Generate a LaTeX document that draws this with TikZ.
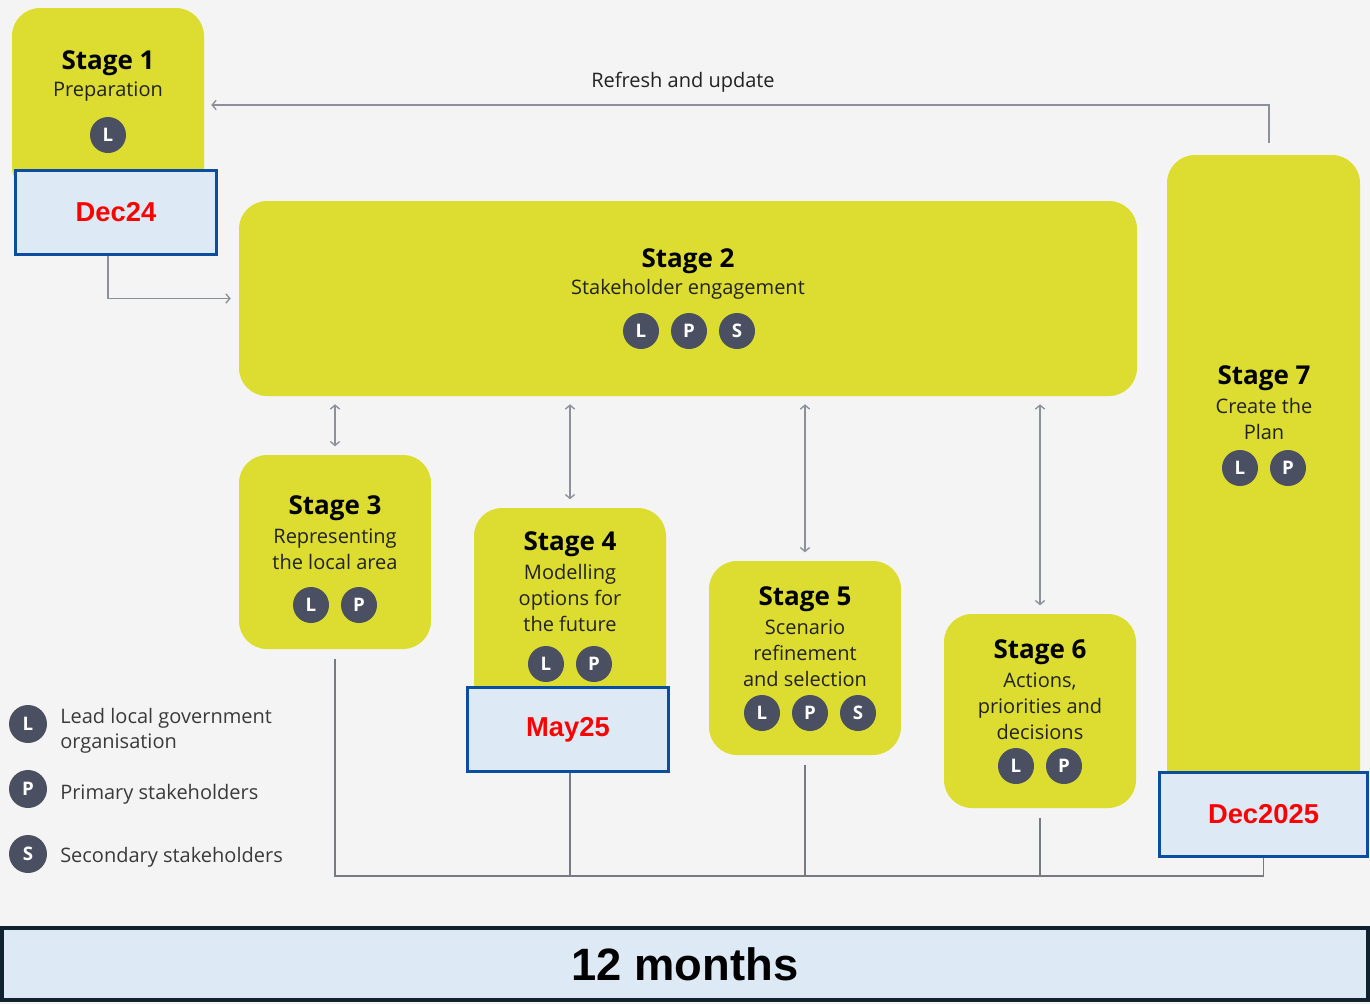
\documentclass[tikz,border=0pt]{standalone}
\usepackage{fontspec}
\setmainfont{Open Sans}
\newfontfamily\datefont{Liberation Sans}
\usetikzlibrary{arrows.meta}
\definecolor{bg}{HTML}{F4F4F4}
\definecolor{ylw}{HTML}{DCDD30}
\definecolor{dotc}{HTML}{4A5061}
\definecolor{ln}{HTML}{8B909A}
\definecolor{dfill}{HTML}{DDEAF6}
\definecolor{dblue}{HTML}{0B4EA0}
\definecolor{dred}{HTML}{FF0000}
\definecolor{navy}{HTML}{10222F}
\definecolor{txt}{HTML}{222222}
\definecolor{legtxt}{HTML}{3A3A3A}
\newcommand{\stagebox}[5]{%
  \node[stagebox, minimum width={(#4-#2)*0.75pt}, minimum height={(#5-#3)*0.75pt}] (#1) at ({(#2+#4)/2},{(#3+#5)/2}) {};}
\newcommand{\datebox}[6]{%
  \node[datebox, minimum width={(#4-#2-3)*0.75pt}, minimum height={(#5-#3-3)*0.75pt}] (#1) at ({(#2+#4)/2},{(#3+#5)/2}) {#6};}
\tikzset{
  stagebox/.style={draw=none, fill=ylw, rounded corners=21pt, inner sep=0pt},
  datebox/.style={draw=dblue, line width=2.25pt, fill=dfill, inner sep=0pt,
    text=dred, font=\datefont\bfseries\fontsize{20.5}{24}\selectfont},
  badge/.style={circle, fill=dotc, text=white, minimum size=27pt, inner sep=0pt,
    font=\bfseries\fontsize{14}{16}\selectfont},
  lbadge/.style={badge, minimum size=28.5pt},
  ttl/.style={font=\bfseries\fontsize{19.5}{22}\selectfont, text=black, inner sep=0pt},
  sub/.style={font=\fontsize{15}{19.5}\selectfont, text=txt, align=center, inner sep=0pt},
  legtext/.style={font=\fontsize{15}{19}\selectfont, text=legtxt, align=left, inner sep=0pt, anchor=west},
  conn/.style={draw=ln, line width=1pt},
  tipb/.tip={Straight Barb[length=3pt, width=7pt, line width=1pt]},
  bl/.style={draw=ln!85!black, line width=0.9pt}
}
\begin{document}
\begin{tikzpicture}[x=0.75pt, y=-0.75pt]
\fill[bg] (0,0) rectangle (1370,1004);
\useasboundingbox (0,0) rectangle (1370,1004);

% stage boxes
\stagebox{s1}{12}{8}{204}{195}
\stagebox{s2}{239}{201}{1137}{396}
\stagebox{s3}{239}{455}{431}{649}
\stagebox{s4}{474}{508}{666}{720}
\stagebox{s5}{709}{561}{901}{755}
\stagebox{s6}{944}{614}{1136}{808}
\stagebox{s7}{1167}{155}{1360}{800}

% date boxes
\datebox{d1}{14}{169}{218}{256}{Dec24}
\datebox{d2}{466}{686}{670}{773}{May25}
\datebox{d3}{1158}{771}{1369}{858}{Dec2025}

% 12 months bar
\node[draw=navy, line width=3pt, fill=dfill, minimum width={(1370-4)*0.75pt}, minimum height={(1002-926-4)*0.75pt},
  inner sep=0pt, font=\datefont\bfseries\fontsize{34}{38}\selectfont, text=black] (months) at (685,964) {12 months};

% texts
\node[ttl] (t1) at (108,63) {Stage 1};
\node[sub] (u1) at (108,92) {Preparation};
\node[badge] (b1L) at (108,135) {L};

\node[ttl] (t2) at (688,261) {Stage 2};
\node[sub] (u2) at (688,289) {Stakeholder engagement};
\node[badge] (b2L) at (641,331) {L};
\node[badge] (b2P) at (689,331) {P};
\node[badge] (b2S) at (737,331) {S};

\node[ttl] (t3) at (335,508) {Stage 3};
\node[sub] (u3) at (335,549) {Representing\\the local area};
\node[badge] (b3L) at (311,605) {L};
\node[badge] (b3P) at (359,605) {P};

\node[ttl] (t4) at (570,544) {Stage 4};
\node[sub] (u4) at (570,598) {Modelling\\options for\\the future};
\node[badge] (b4L) at (546,664) {L};
\node[badge] (b4P) at (594,664) {P};

\node[ttl] (t5) at (805,599) {Stage 5};
\node[sub] (u5) at (805,653) {Scenario\\refinement\\and selection};
\node[badge] (b5L) at (762,713) {L};
\node[badge] (b5P) at (810,713) {P};
\node[badge] (b5S) at (858,713) {S};

\node[ttl] (t6) at (1040,652) {Stage 6};
\node[sub] (u6) at (1040,706) {Actions,\\priorities and\\decisions};
\node[badge] (b6L) at (1016,766) {L};
\node[badge] (b6P) at (1064,766) {P};

\node[ttl] (t7) at (1264,378) {Stage 7};
\node[sub] (u7) at (1264,419) {Create the\\Plan};
\node[badge] (b7L) at (1240,468) {L};
\node[badge] (b7P) at (1288,468) {P};

% legend
\node[lbadge] (gL) at (28,724) {L};
\node[lbadge] (gP) at (28,789) {P};
\node[lbadge] (gS) at (28,854) {S};
\node[legtext] (lL) at (60,731) {Lead local government\\organisation};
\node[legtext] (lP) at (60,794) {Primary stakeholders};
\node[legtext] (lS) at (60,857) {Secondary stakeholders};

% refresh loop
\coordinate (rf1) at ([xshift=4.1pt, yshift=9pt]s7.north);
\coordinate (rf2) at ([xshift=5.25pt, yshift=-2.6pt]s1.east);
\draw[conn, -{tipb}] (rf1) |- (rf2);
\node[sub, font=\fontsize{15}{18}\selectfont] (rfl) at (683,82) {Refresh and update};

% Dec24 -> stage 2
\draw[conn, -{tipb}] ([xshift=-6pt]d1.south) |- ([xshift=-6pt]s2.west);

% double arrows
\foreach \s in {s3,s4,s5,s6}{
  \draw[conn, {tipb}-{tipb}, shorten <=6pt, shorten >=6.3pt] (s2.south -| \s.north) -- (\s.north);
}

% bottom timeline lines
\coordinate (base) at (1263.5,876);
\draw[bl] ([yshift=-7pt]s3.south) |- (d3.south |- base) -- (d3.south);
\draw[bl] ([xshift=1.5pt]d2.south) -- ([xshift=1.5pt]d2.south |- base);
\draw[bl] ([yshift=-7pt]s5.south) -- (s5.south |- base);
\draw[bl] ([yshift=-7pt]s6.south) -- (s6.south |- base);
\end{tikzpicture}
\end{document}
